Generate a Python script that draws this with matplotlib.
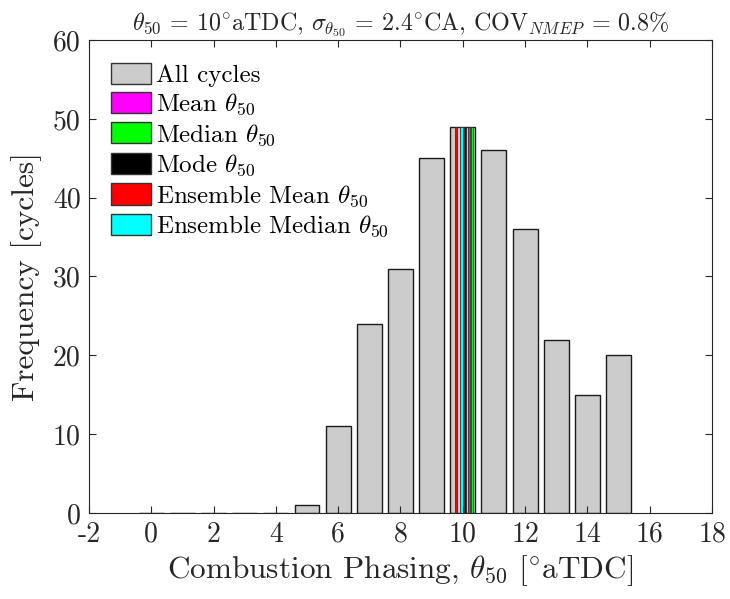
import matplotlib
matplotlib.use('Agg')
import matplotlib.pyplot as plt
from matplotlib.patches import Patch

plt.rcParams['font.family'] = 'serif'
plt.rcParams['font.serif'] = ['cmr10']
plt.rcParams['mathtext.fontset'] = 'cm'
plt.rcParams['axes.unicode_minus'] = False

# histogram of combustion phasing (bin centres, counts)
bin_centres = [0, 1, 2, 3, 4, 5, 6, 7, 8, 9, 10, 11, 12, 13, 14, 15]
counts = [0, 0, 0, 0, 0, 1, 11, 24, 31, 45, 49, 46, 36, 22, 15, 20]

# statistics markers drawn as thin bars
stat_names = ['Mean', 'Median', 'Mode', 'Ensemble Mean', 'Ensemble Median']
stat_values = [10.2, 10.3, 10.08, 9.77, 9.96]
stat_heights = [49, 49, 49, 49, 49]
stat_colors = ['#ff00ff', '#00ff00', '#000000', '#ff0000', '#00ffff']

fig = plt.figure(figsize=(7.3, 5.99), dpi=100)
ax = fig.add_axes([0.1219, 0.1436, 0.8534, 0.7896])

ax.bar(bin_centres, counts, width=0.8, color='#cccccc', edgecolor='#1a1a1a', linewidth=1.0)
for v, h, c in zip(stat_values, stat_heights, stat_colors):
    ax.bar(v, h, width=0.07, color=c, edgecolor='#333333', linewidth=0.6)

ax.set_xlim(-2, 18)
ax.set_ylim(0, 60)
ax.set_xticks(range(-2, 19, 2))
ax.set_yticks(range(0, 61, 10))
ax.tick_params(direction='in', top=True, right=True, length=5, width=0.8,
               labelsize=20, colors='#262626', pad=6)
for s in ax.spines.values():
    s.set_color('#262626')
    s.set_linewidth(0.8)

ax.set_xlabel(r'Combustion Phasing, $\theta_{50}$ [$^{\circ}$aTDC]', fontsize=22.5,
              color='#262626', labelpad=4)
ax.set_ylabel('Frequency [cycles]', fontsize=22.5, color='#262626', labelpad=8)
ax.set_title(r'$\theta_{50}$ = 10$^{\circ}$aTDC, $\sigma_{\theta_{50}}$ = 2.4$^{\circ}$CA, '
             r'COV$_{NMEP}$ = 0.8$\%$', fontsize=17.3, color='#262626', pad=7)

handles = [Patch(facecolor='#cccccc', edgecolor='#333333', label='All cycles')]
for n, c in zip(stat_names, stat_colors):
    handles.append(Patch(facecolor=c, edgecolor='#333333', label=n + r' $\theta_{50}$'))
ax.legend(handles=handles, loc='upper left', frameon=False, fontsize=18,
          handlelength=1.6, handleheight=0.92, handletextpad=0.2,
          labelspacing=0.2, borderaxespad=0.6, borderpad=0.3)

fig.savefig('out.png', dpi=100)
